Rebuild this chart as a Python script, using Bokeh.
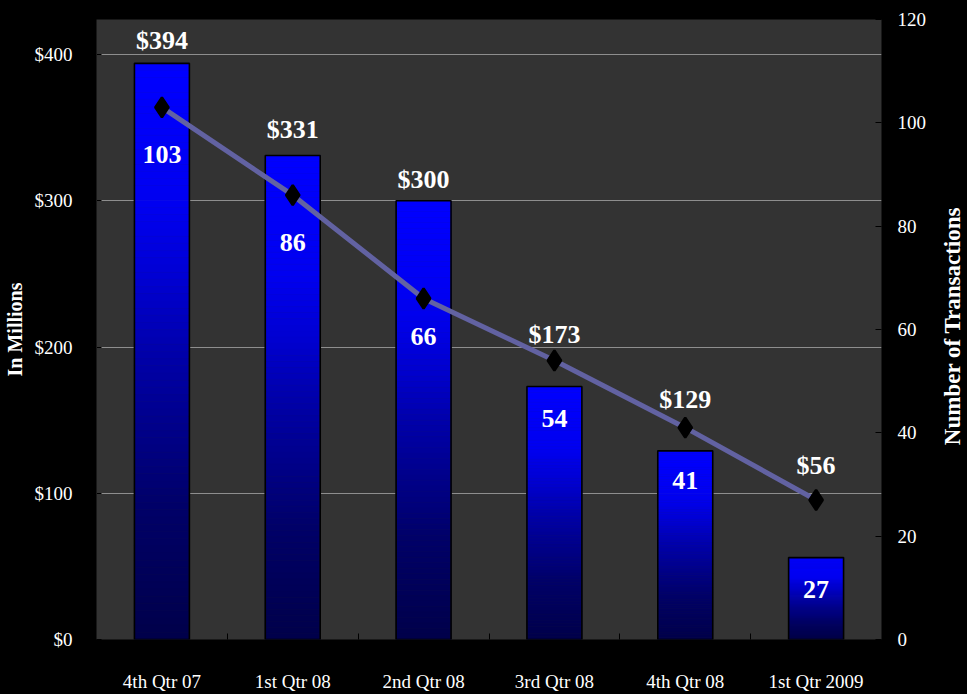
import math
import numpy as np
from bokeh.plotting import figure
from bokeh.layouts import row
from bokeh.models import (Range1d, LinearAxis, FixedTicker, NumeralTickFormatter,
                          GlobalInlineStyleSheet)
from bokeh.core.properties import value
from bokeh.embed import file_html
from bokeh.resources import INLINE

# ---- data ----
quarters = ["4th Qtr 07", "1st Qtr 08", "2nd Qtr 08", "3rd Qtr 08", "4th Qtr 08", "1st Qtr 2009"]
dollars_millions = [394, 331, 300, 173, 129, 56]
transactions = [103, 86, 66, 54, 41, 27]
left_ticks = [0, 100, 200, 300, 400]
right_ticks = [0, 20, 40, 60, 80, 100, 120]

# ---- layout / style-only settings ----
dollar_label_lift = [23, 26, 21, 52, 51, 92]      # px above bar top
count_label_drop = [47, 47, 38, 58, 53, 89]       # px below marker
grad_pos = [0.0, 0.25, 0.38, 0.51, 0.64, 0.77, 1.0]   # fraction from bar top
grad_blue = [255, 240, 208, 168, 136, 104, 74]

FONT_NAME = "Liberation Serif"
FONT = value(FONT_NAME)
BAR_W = 0.42
MAIN_W, SIDE_W, H = 935, 32, 694

xs = [i + 0.5 for i in range(len(quarters))]

p = figure(width=MAIN_W, height=H, output_backend="svg", toolbar_location=None,
           x_range=Range1d(0, len(quarters)), y_range=Range1d(0, 424),
           background_fill_color="#333333", border_fill_color="#000000",
           min_border_left=96, min_border_right=MAIN_W - 881, min_border_top=19,
           min_border_bottom=54, outline_line_color=None)
p.stylesheets = [GlobalInlineStyleSheet(css="html, body { background-color: #000000; }")]
p.extra_y_ranges = {"count": Range1d(0, 120)}

# grid
p.xgrid.visible = False
p.ygrid.ticker = FixedTicker(ticks=left_ticks)
p.ygrid.grid_line_color = "#8e8e8e"
p.ygrid.grid_line_width = 1

# gradient bars built from thin slices
N = 80
seg_x, seg_b, seg_t, seg_c = [], [], [], []
for x, v in zip(xs, dollars_millions):
    for k in range(N):
        t0, t1 = k / N, (k + 1) / N
        tm = (t0 + t1) / 2
        b = int(round(float(np.interp(tm, grad_pos, grad_blue))))
        seg_x.append(x)
        seg_t.append(v * (1 - t0))
        seg_b.append(v * (1 - t1))
        seg_c.append("#%02x%02x%02x" % (0, 0, b))
p.vbar(x=seg_x, bottom=seg_b, top=seg_t, width=BAR_W, fill_color=seg_c,
       line_color=seg_c, line_width=0.6)
p.vbar(x=xs, bottom=0, top=dollars_millions, width=BAR_W, fill_color=None,
       line_color="#000000", line_width=1.6)

# transactions line
p.line(xs, transactions, y_range_name="count", line_color="#6262a2", line_width=5)
p.scatter(xs, transactions, y_range_name="count", marker="diamond", size=20,
          fill_color="#000000", line_color="#000000", line_width=2.5)

# labels
p.text(x=xs, y=dollars_millions, text=["$%d" % v for v in dollars_millions],
       y_offset=[-d for d in dollar_label_lift], text_align="center", text_baseline="middle",
       text_font=FONT, text_font_style="bold", text_font_size="26px", text_color="#ffffff")
p.text(x=xs, y=transactions, y_range_name="count", text=[str(v) for v in transactions],
       y_offset=count_label_drop, text_align="center", text_baseline="middle",
       text_font=FONT, text_font_style="bold", text_font_size="26px", text_color="#ffffff")

# bottom axis
xa = p.xaxis[0]
xa.ticker = FixedTicker(ticks=xs, minor_ticks=list(range(1, len(quarters))))
xa.major_label_overrides = {x: q for x, q in zip(xs, quarters)}
xa.major_tick_line_color = None
xa.minor_tick_line_color = "#000000"
xa.minor_tick_in = 6
xa.minor_tick_out = 0
xa.axis_line_color = None
xa.major_label_standoff = 25
xa.major_label_text_font = FONT_NAME
xa.major_label_text_font_size = "19px"
xa.major_label_text_color = "#ffffff"

# left axis
ya = p.yaxis[0]
ya.ticker = FixedTicker(ticks=left_ticks)
ya.formatter = NumeralTickFormatter(format="$0")
ya.axis_label = "In Millions"
ya.axis_label_text_font = FONT_NAME
ya.axis_label_text_font_style = "bold"
ya.axis_label_text_font_size = "20px"
ya.axis_label_text_color = "#ffffff"
ya.axis_label_standoff = 6
ya.major_tick_line_color = "#000000"
ya.major_tick_in = 5
ya.major_tick_out = 0
ya.minor_tick_line_color = None
ya.axis_line_color = None
ya.major_label_standoff = 24
ya.major_label_text_font = FONT_NAME
ya.major_label_text_font_size = "19px"
ya.major_label_text_color = "#ffffff"

# right axis
ra = LinearAxis(y_range_name="count", ticker=FixedTicker(ticks=right_ticks))
ra.major_tick_line_color = "#000000"
ra.major_tick_in = 6
ra.major_tick_out = 0
ra.minor_tick_line_color = None
ra.axis_line_color = None
ra.major_label_standoff = 16
ra.major_label_text_font = FONT_NAME
ra.major_label_text_font_size = "19px"
ra.major_label_text_color = "#ffffff"
p.add_layout(ra, "right")

# narrow side panel holding the right-axis title, reading bottom-to-top
side = figure(width=SIDE_W, height=H, output_backend="svg", toolbar_location=None,
              x_range=Range1d(0, SIDE_W), y_range=Range1d(0, H),
              x_axis_location=None, y_axis_location=None,
              background_fill_color="#000000", border_fill_color="#000000",
              min_border=0, outline_line_color=None)
side.grid.visible = False
side.text(x=[17], y=[H - 343], text=["Number of Transactions"], angle=math.pi / 2,
          text_align="center", text_baseline="middle", text_font=FONT,
          text_font_style="bold", text_font_size="23px", text_color="#ffffff")

layout = row(p, side, spacing=0)
open("out.html", "w").write(file_html(layout, INLINE))
